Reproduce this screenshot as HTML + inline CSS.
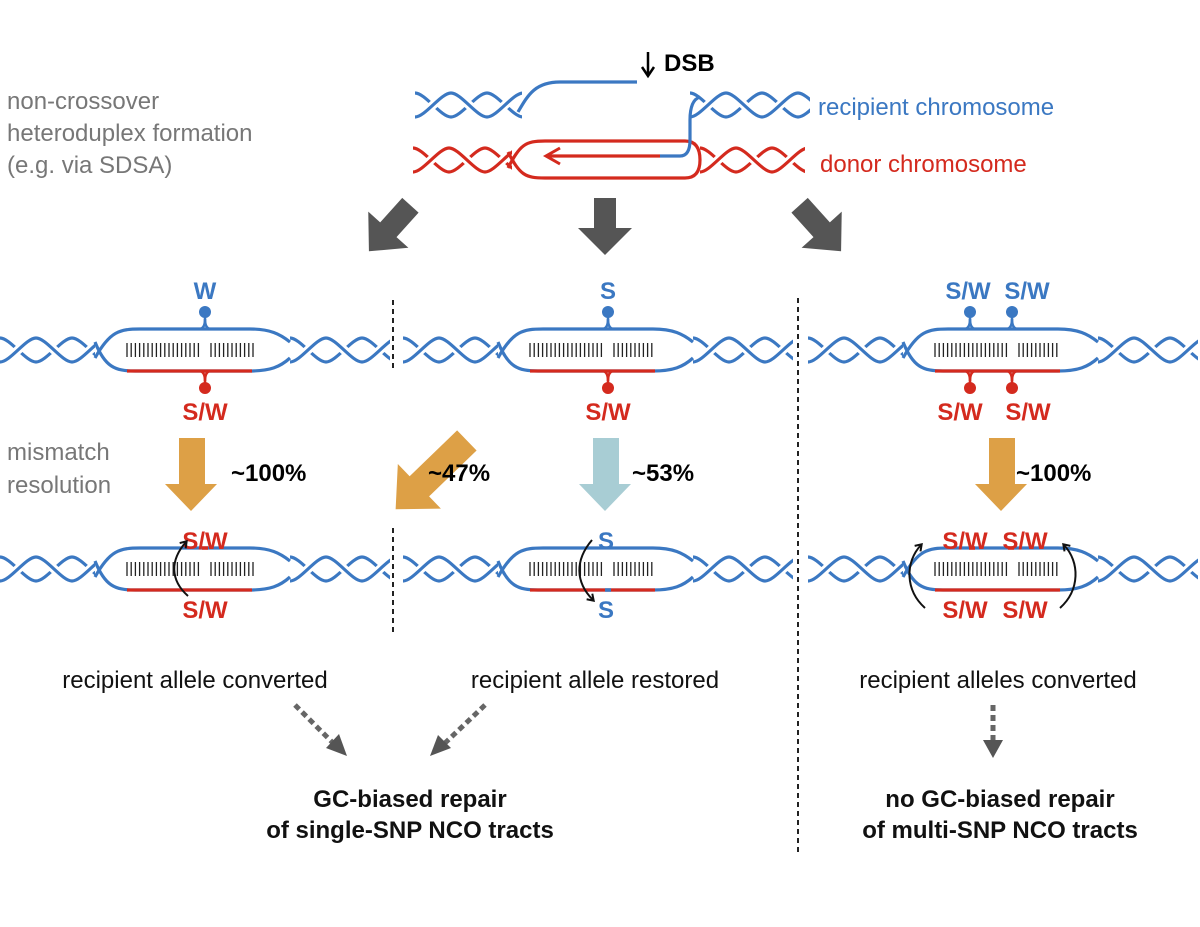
<!DOCTYPE html>
<html><head><meta charset="utf-8"><style>
html,body{margin:0;padding:0;background:#fff;}
svg{display:block;}
text{font-family:"Liberation Sans",Arial,sans-serif;}
</style></head><body>
<svg id="s" width="1200" height="927" viewBox="0 0 1200 927" xmlns="http://www.w3.org/2000/svg">
<defs>
<marker id="ah" markerWidth="10" markerHeight="10" refX="6" refY="5" orient="auto" markerUnits="userSpaceOnUse"><path d="M1,1 L7,5 L1,9" fill="none" stroke="#111" stroke-width="2"/></marker>
</defs>
<g id="g"></g>
<g fill="#777" font-size="24">
<text x="7" y="109">non-crossover</text>
<text x="7" y="141">heteroduplex formation</text>
<text x="7" y="173">(e.g. via SDSA)</text>
<text x="7" y="460">mismatch</text>
<text x="7" y="493">resolution</text>
</g>
<text x="818" y="115" font-size="24" fill="#3b78c2">recipient chromosome</text>
<text x="820" y="172" font-size="24" fill="#d42a1e">donor chromosome</text>
<line x1="648" y1="52" x2="648" y2="74" stroke="#000" stroke-width="2.5"/>
<path d="M642,67 L648,76 L654,67" fill="none" stroke="#000" stroke-width="2.5"/>
<text x="664" y="71" font-size="24" font-weight="bold">DSB</text>
<g fill="#555">
<polygon transform="translate(605,227)" points="-11,-29 11,-29 11,1 27,1 0,28 -27,1 -11,1"/>
<polygon transform="translate(389,229) rotate(42)" points="-11,-32 11,-32 11,1 27,1 0,30 -27,1 -11,1"/>
<polygon transform="translate(821,229) rotate(-42)" points="-11,-32 11,-32 11,1 27,1 0,30 -27,1 -11,1"/>
</g>
<polygon points="179,438 205,438 205,484 217,484 191,511 165,484 179,484" fill="#DDA046"/>
<polygon points="989,438 1015,438 1015,484 1027,484 1001,511 975,484 989,484" fill="#DDA046"/>
<polygon points="593,438 619,438 619,484 631,484 605,511 579,484 593,484" fill="#A8CDD4"/>
<polygon transform="translate(428,478) rotate(46)" points="-14,-54 14,-54 14,12 31,12 0,45 -31,12 -14,12" fill="#DDA046"/>
<g font-size="24" font-weight="bold">
<text x="231" y="481">~100%</text>
<text x="428" y="481">~47%</text>
<text x="632" y="481">~53%</text>
<text x="1016" y="481">~100%</text>
</g>
<g stroke="#222" stroke-width="2" stroke-dasharray="5,4">
<line x1="393" y1="300" x2="393" y2="368"/>
<line x1="393" y1="528" x2="393" y2="632"/>
<line x1="798" y1="298" x2="798" y2="852"/>
</g>
<g font-size="24" fill="#111" text-anchor="middle">
<text x="195" y="688">recipient allele converted</text>
<text x="595" y="688">recipient allele restored</text>
<text x="998" y="688">recipient alleles converted</text>
</g>
<g stroke="#666" stroke-width="5" stroke-dasharray="6,4" fill="none">
<line x1="295" y1="705" x2="333" y2="743"/>
<line x1="485" y1="705" x2="444" y2="744"/>
<line x1="993" y1="705" x2="993" y2="740"/>
</g>
<g fill="#555">
<polygon points="326,748 347,756 339,734"/>
<polygon points="451,748 430,756 438,735"/>
<polygon points="983,740 1003,740 993,758"/>
</g>
<g font-size="24" font-weight="bold" text-anchor="middle" fill="#111">
<text x="410" y="807">GC-biased repair</text>
<text x="410" y="838">of single-SNP NCO tracts</text>
<text x="1000" y="807">no GC-biased repair</text>
<text x="1000" y="838">of multi-SNP NCO tracts</text>
</g>
</svg>
<script>
var NS="http://www.w3.org/2000/svg",G=document.getElementById("g");
function el(t,a){var e=document.createElementNS(NS,t);for(var k in a)e.setAttribute(k,a[k]);G.appendChild(e);return e;}
function wave(x0,x1,yc,A,P,ph){var x=x0-ph;
 var d="M"+x+","+(yc-A);var s=1;
 while(x<x1+P){var y0=yc-s*A,y1=yc+s*A;d+=" C"+(x+P*0.14)+","+y0+" "+(x+P*0.36)+","+y1+" "+(x+P/2)+","+y1;x+=P/2;s=-s;}
 return d;}
function helix(x0,x1,yc,c){
 var A=12,P=72;
 var id="c"+x0+"_"+yc;
 var cp=el("clipPath",{id:id});var r=document.createElementNS(NS,"rect");
 r.setAttribute("x",x0);r.setAttribute("y",yc-20);r.setAttribute("width",x1-x0);r.setAttribute("height",40);cp.appendChild(r);
 var g=el("g",{"clip-path":"url(#"+id+")"});
 function p(d,col,w){var e=document.createElementNS(NS,"path");e.setAttribute("d",d);e.setAttribute("fill","none");e.setAttribute("stroke",col);e.setAttribute("stroke-width",w);g.appendChild(e);}
 var a=wave(x0,x1,yc,A,P,0),b=wave(x0,x1,yc,A,P,P/2);
 p(a,c,3.2);p(b,"#fff",9);p(b,c,3.2);
}
function line(d,c,w){return el("path",{d:d,fill:"none",stroke:c,"stroke-width":w||3.2});}
var B="#3b78c2",R="#d42a1e";
helix(415,522,105,B);line("M518,112 C528,95 535,82 560,82 L637,82",B);
helix(690,810,105,B);
helix(413,512,160,R);helix(700,805,160,R);
line("M508,168 C520,145 525,141 545,141 L685,141 Q700,141 700,160 Q700,178 685,178 L545,178 C525,178 520,175 508,152",R);
line("M548,156 L660,156",R);line("M560,148 L546,156 L560,164",R,3);
line("M660,156 L680,156 Q690,156 690,140 L690,120 Q690,100 700,97",B);
function het(x,yc){
 helix(x,x+95,yc,B);helix(x+290,x+390,yc,B);
 var L=x+95,Rr=x+290,t=yc-21,b=yc+21;
 line("M"+L+","+(yc+8)+" C"+(L+15)+","+(t+2)+" "+(L+25)+","+t+" "+(L+45)+","+t+" L"+(Rr-40)+","+t+" C"+(Rr-20)+","+t+" "+(Rr-10)+","+(t+5)+" "+Rr+","+(yc-8),B);
 line("M"+L+","+(yc-8)+" C"+(L+10)+","+(b-4)+" "+(L+20)+","+b+" "+(L+40)+","+b+" L"+(Rr-40)+","+b+" C"+(Rr-20)+","+b+" "+(Rr-10)+","+(b-4)+" "+Rr+","+(yc+8),B);
 line("M"+(x+127)+","+b+" L"+(x+252)+","+b,R);
 for(var i=x+127;i<=x+253;i+=4.2){ if(Math.abs(i-(x+205))<3) continue; el("line",{x1:i,y1:yc-7,x2:i,y2:yc+7,stroke:"#222","stroke-width":1.3});}
 return {t:t,b:b};
}
function pin(x,y,dir,c){
 line("M"+(x-6)+","+y+" Q"+x+","+y+" "+x+","+(y+dir*10)+" Q"+x+","+y+" "+(x+6)+","+y,c,2.5);
 line("M"+x+","+(y+dir*3)+" L"+x+","+(y+dir*14),c,2.5);
 el("circle",{cx:x,cy:y+dir*17,r:6,fill:c});
}
function lab(x,y,s,c){var e=el("text",{x:x,y:y,"font-size":24,"font-weight":"bold",fill:c,"text-anchor":"middle"});e.textContent=s;}
var h=het(0,350);pin(205,h.t,-1,B);pin(205,h.b,1,R);lab(205,299,"W",B);lab(205,420,"S/W",R);
h=het(403,350);pin(608,h.t,-1,B);pin(608,h.b,1,R);lab(608,299,"S",B);lab(608,420,"S/W",R);
h=het(808,350);pin(970,h.t,-1,B);pin(1012,h.t,-1,B);pin(970,h.b,1,R);pin(1012,h.b,1,R);
lab(968,299,"S/W",B);lab(1027,299,"S/W",B);lab(960,420,"S/W",R);lab(1028,420,"S/W",R);
h=het(0,569);line("M202,"+h.t+" L208,"+h.t,R,3.5);lab(205,549,"S/W",R);lab(205,618,"S/W",R);
el("path",{d:"M188,596 C170,580 170,560 186,542",fill:"none",stroke:"#111","stroke-width":2,"marker-end":"url(#ah)"});
h=het(403,569);line("M605,"+h.b+" L611,"+h.b,B,3.5);lab(606,549,"S",B);lab(606,618,"S",B);
el("path",{d:"M592,540 C575,560 575,582 593,600",fill:"none",stroke:"#111","stroke-width":2,"marker-end":"url(#ah)"});
h=het(808,569);line("M969,"+h.t+" L975,"+h.t,R,3.5);line("M1008,"+h.t+" L1014,"+h.t,R,3.5);
lab(965,549,"S/W",R);lab(1025,549,"S/W",R);lab(965,618,"S/W",R);lab(1025,618,"S/W",R);
el("path",{d:"M925,608 C905,590 905,562 921,545",fill:"none",stroke:"#111","stroke-width":2,"marker-end":"url(#ah)"});
el("path",{d:"M1060,608 C1080,590 1080,562 1064,545",fill:"none",stroke:"#111","stroke-width":2,"marker-end":"url(#ah)"});
</script>
</body></html>
